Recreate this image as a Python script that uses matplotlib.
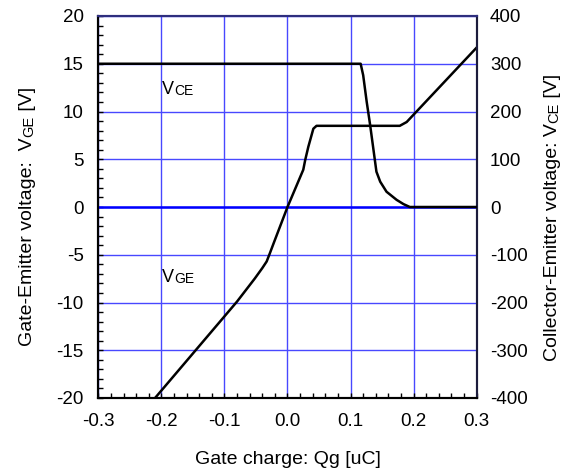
import numpy as np
import matplotlib
matplotlib.use("Agg")
import matplotlib.pyplot as plt
from matplotlib.text import Annotation
from matplotlib.ticker import MultipleLocator

plt.rcParams['font.family'] = ['Liberation Sans', 'DejaVu Sans']

# Gate charge [uC] and gate-emitter voltage [V]
qg_vge = [-0.21, -0.08, -0.052, -0.04, -0.033, -0.028, -0.022, 0.0, 0.025,
          0.028, 0.033, 0.041, 0.046, 0.178, 0.189, 0.30]
vge = [-20.0, -9.9, -7.5, -6.4, -5.7, -4.85, -3.8, 0.0, 3.9,
       4.9, 6.3, 8.2, 8.5, 8.5, 8.9, 16.7]

# Gate charge [uC] and collector-emitter voltage [V]
qg_vce = [-0.30, 0.116, 0.120, 0.1255, 0.131, 0.136, 0.141, 0.147, 0.157,
          0.173, 0.184, 0.194, 0.30]
vce = [300, 300, 276, 221, 172, 123, 74, 53, 32, 15, 6, 0, 0]

x_ticks = [-0.3, -0.2, -0.1, 0.0, 0.1, 0.2, 0.3]
vge_ticks = [-20, -15, -10, -5, 0, 5, 10, 15, 20]
vce_ticks = [-400, -300, -200, -100, 0, 100, 200, 300, 400]

W, H = 563, 472
FS = 13.5
LFS = 14
fig = plt.figure(figsize=(W / 100, H / 100), dpi=100)
ax = fig.add_axes([98.3 / W, 1 - 398 / H, 378.4 / W, 382 / H])
ax.set_xlim(-0.3, 0.3)
ax.set_ylim(-20, 20)
ax.set_xticks(x_ticks)
ax.set_xticklabels([f"{v:.1f}" for v in x_ticks])
ax.set_yticks(vge_ticks)
ax.set_yticklabels([str(v) for v in vge_ticks])
ax.xaxis.set_minor_locator(MultipleLocator(0.02))
ax.yaxis.set_minor_locator(MultipleLocator(1))
ax.tick_params(which='both', direction='in', length=3.6, width=1.0,
               top=False, right=False, labelsize=FS, colors='black')
ax.tick_params(axis='y', pad=10.5)
ax.tick_params(axis='x', pad=11)
ax.grid(True, which='major', color='#4848ff', lw=1.0)
ax.axhline(0, color='#0000ff', lw=1.8, zorder=2)
ax.plot(qg_vge, vge, color='black', lw=1.8, zorder=4)

ax2 = ax.twinx()
ax2.set_ylim(-400, 400)
ax2.set_yticks(vce_ticks)
ax2.set_yticklabels([str(v) for v in vce_ticks])
ax2.tick_params(axis='y', length=0, labelsize=FS, pad=9.5)
ax2.plot(qg_vce, vce, color='black', lw=1.8, zorder=4)

for a in (ax, ax2):
    a.spines['left'].set_color('black')
    a.spines['left'].set_linewidth(1.5)
    a.spines['bottom'].set_color('black')
    a.spines['bottom'].set_linewidth(1.5)
    a.spines['top'].set_color('#2e2e7e')
    a.spines['top'].set_linewidth(1.5)
    a.spines['right'].set_color('#1c1c3c')
    a.spines['right'].set_linewidth(1.5)


def subscript_label(axes, x, y, main, sub, size=13, subsize=10):
    t = axes.text(x, y, main, fontsize=size, ha='left', va='bottom')
    axes.annotate(sub, xy=(1, 0), xycoords=t, fontsize=subsize,
                  ha='left', va='bottom')


subscript_label(ax, -0.199, 11.43, "V", "CE")
subscript_label(ax, -0.199, -8.22, "V", "GE")


def vlabel(parts, x_px, y_px):
    """Vertical label built from pieces so the subscript sits on the baseline."""
    last = fig.text(x_px / W, 1 - y_px / H, parts[0][0], fontsize=parts[0][1],
                    rotation=90, ha='right', va='bottom')
    for s, fs in parts[1:]:
        last = fig.add_artist(Annotation(
            s, xy=(1, 1), xycoords=last, fontsize=fs, rotation=90,
            ha='right', va='bottom'))
    return last


vlabel([("Gate-Emitter voltage:  V", LFS), ("GE", 10.5), (" [V]", LFS)], 36, 346)
vlabel([("Collector-Emitter voltage: V", LFS), ("CE", 10.5), (" [V]", LFS)], 561, 361)

fig.text(287.5 / W, 1 - 459 / H, "Gate charge: Qg [uC]", fontsize=LFS,
         ha='center', va='center')

fig.savefig("out.png", dpi=100)
